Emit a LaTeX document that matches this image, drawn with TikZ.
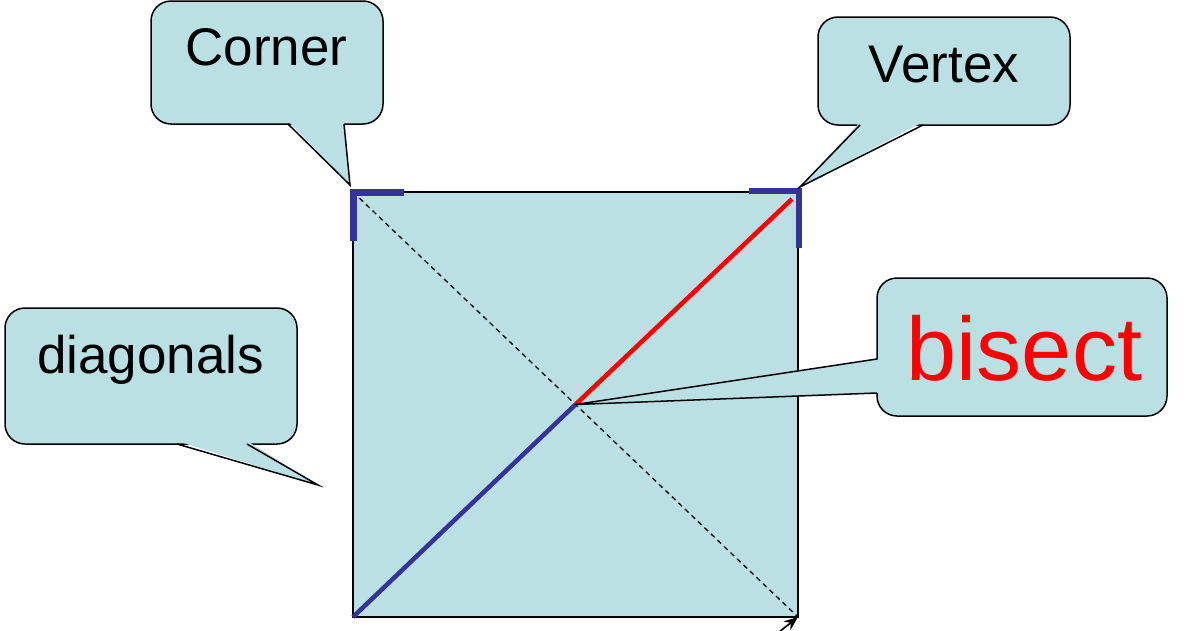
\documentclass[tikz,border=0pt]{standalone}
\usepackage{fontspec}
\setmainfont{Liberation Sans}
\usetikzlibrary{arrows.meta}
\definecolor{bubblefill}{RGB}{186,224,228}
\definecolor{markblue}{RGB}{51,51,153}
\newcommand{\tail}[5]{\fill[bubblefill] (#1) -- (#3) -- (#5) -- cycle;
  \draw[line width=1.5pt] (#2) -- (#3) -- (#4); }

\begin{document}
\begin{tikzpicture}[x=1pt,y=-1pt,
  bubble/.style={draw,line width=1.5pt,fill=bubblefill,rounded corners=20pt,inner sep=0pt},
  word/.style={anchor=base,inner sep=0pt,font=\fontsize{53}{60}\selectfont},
  cornermark/.style={markblue,line width=6.5pt}]
  \useasboundingbox (0,0) rectangle (1200,630);
  % the square
  \coordinate (A) at (353,192);
  \coordinate (B) at (798,192);
  \coordinate (C) at (798,617);
  \coordinate (D) at (353,617);
  \coordinate (O) at (575.5,404.5);
  \coordinate (redend) at (792,199);
  \filldraw[fill=bubblefill,line width=1.5pt] (A) rectangle (C);
  \draw[dash pattern=on 5pt off 4pt,line width=1.3pt] (A) -- (C);
  \draw[markblue,line width=4.5pt] (D) -- (O);
  \draw[red,line width=4.5pt] (O) -- (redend);
  \draw[cornermark] (353.5,241) -- (353.5,192.5) -- (404,192.5);
  \draw[cornermark] (749,191) -- (799,191) -- (799,248);
  \coordinate (arrowfoot) at (774,636);
  \draw[-{Stealth[length=14pt,width=11pt]},line width=1.6pt] (arrowfoot) -- (C);
  % callouts
  \node[bubble,minimum width=232pt,minimum height=123pt] (cornerbox) at (267,62.5) {};
  \coordinate (cornertip) at (350,185);
  \tail{288,121}{288,124}{cornertip}{344,124}{344,121}
  \node[word] (corner) at (266.5,65) {Corner};

  \node[bubble,minimum width=252pt,minimum height=108pt] (vertexbox) at (944,71) {};
  \coordinate (vertextip) at (800,187);
  \tail{860,122}{860,125}{vertextip}{923,125}{923,122}
  \node[word] (vertex) at (944,82) {Vertex};

  \node[bubble,minimum width=292pt,minimum height=136pt] (diagbox) at (151,376) {};
  \coordinate (diagtip) at (318,485);
  \tail{177,441}{177,444}{diagtip}{247,444}{247,441}
  \node[word] (diag) at (150.5,373) {diagonals};

  \node[bubble,minimum width=290pt,minimum height=138pt] (bisectbox) at (1022,347) {};
  \tail{880,359}{877,359}{O}{877,393}{880,393}
  \node[word,red,font=\fontsize{90}{100}\selectfont] (bisect) at (1024.5,380) {bisect};
\end{tikzpicture}
\end{document}
